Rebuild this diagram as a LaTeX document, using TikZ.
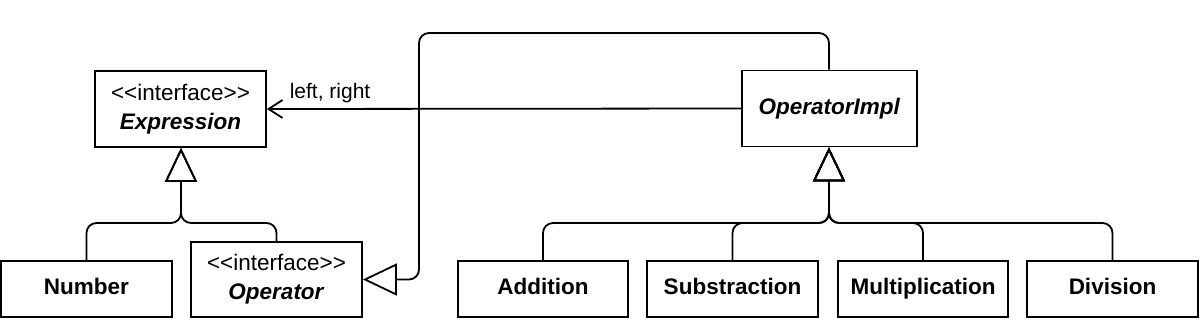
\documentclass[tikz,border=0pt]{standalone}
\usepackage{fontspec}
\setmainfont{Liberation Sans}
\usetikzlibrary{arrows.meta}
\begin{document}
\begin{tikzpicture}[x=1pt,y=-1pt,
  cls/.style={draw, line width=1.8pt, rectangle, align=center, inner sep=0pt,
    font=\fontsize{22.5}{29}\selectfont},
  conn/.style={line width=1.8pt, rounded corners=10pt},
  inh/.style={conn, -{Triangle[open, length=34pt, width=32pt, line width=1.8pt]}},
  assoc/.style={conn, -{Straight Barb[length=14pt, width=18pt, line width=1.8pt]}},
  lbl/.style={font=\fontsize{21}{24}\selectfont, inner sep=0pt}
]
\useasboundingbox (0,0) rectangle (1200,319);
% classes
\node[cls, minimum width=171pt, minimum height=76pt] (expr) at (180.5,109)
  {{<}{<}interface{>}{>}\\\textbf{\textit{Expression}}};
\node[cls, minimum width=175pt, minimum height=76pt] (impl) at (829.5,108.5)
  {\textbf{\textit{OperatorImpl}}};
\node[cls, minimum width=171pt, minimum height=56pt] (num) at (86.5,289)
  {\strut\textbf{Number}};
\node[cls, minimum width=171pt, minimum height=75pt] (op) at (276.5,279.5)
  {{<}{<}interface{>}{>}\\\textbf{\textit{Operator}}};
\node[cls, minimum width=170pt, minimum height=56pt] (add) at (543,289)
  {\strut\textbf{Addition}};
\node[cls, minimum width=171pt, minimum height=56pt] (sub) at (732.5,289)
  {\strut\textbf{Substraction}};
\node[cls, minimum width=170pt, minimum height=56pt] (mul) at (923,289)
  {\strut\textbf{Multiplication}};
\node[cls, minimum width=171pt, minimum height=56pt] (div) at (1112.5,289)
  {\strut\textbf{Division}};
% junction helpers
\coordinate (j1) at (181,223);
\coordinate (j2) at (829,223);
\coordinate (top) at (419,33);
% inheritance to Expression
\draw[inh] (num.north) |- (j1) -- (expr.south -| j1);
\draw[inh] (op.north) |- (j1) -- (expr.south -| j1);
% inheritance to OperatorImpl
\draw[inh] (add.north) |- (j2) -- (impl.south -| j2);
\draw[inh] (sub.north) |- (j2) -- (impl.south -| j2);
\draw[inh] (mul.north) |- (j2) -- (impl.south -| j2);
\draw[inh] (div.north) |- (j2) -- (impl.south -| j2);
% OperatorImpl realizes Operator
\draw[inh] (impl.north -| j2) |- (top) |- (op.east);
% association
\draw[assoc] (impl.west) -- (expr.east) node[lbl, anchor=west, pos=1, xshift=22pt, yshift=16pt] {left, right};
\end{tikzpicture}
\end{document}
